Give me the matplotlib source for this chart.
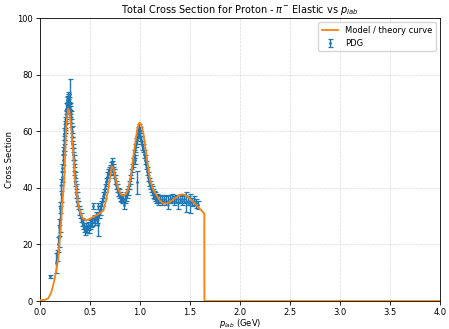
import numpy as np
import matplotlib
matplotlib.use("Agg")
import matplotlib.pyplot as plt

# PDG measurements (p_lab in GeV, cross section, error)
pdg_p = [0.10, 0.16, 0.175, 0.185, 0.19, 0.195, 0.20, 0.205, 0.21, 0.215,
         0.22, 0.225, 0.23, 0.233, 0.236, 0.24, 0.243, 0.246, 0.25, 0.253,
         0.256, 0.26, 0.263, 0.266, 0.27, 0.273, 0.276, 0.28, 0.283, 0.286,
         0.29, 0.293, 0.296, 0.30, 0.305, 0.308, 0.312, 0.316, 0.32, 0.324,
         0.328, 0.332, 0.336, 0.34, 0.345, 0.35, 0.355, 0.36, 0.365, 0.37,
         0.375, 0.38, 0.39, 0.40, 0.41, 0.42, 0.43, 0.44, 0.45, 0.46,
         0.47, 0.48, 0.49, 0.50, 0.51, 0.52, 0.53, 0.54, 0.55, 0.56,
         0.57, 0.58, 0.585, 0.59, 0.60, 0.61, 0.62, 0.63, 0.64, 0.65,
         0.66, 0.67, 0.68, 0.69, 0.70, 0.71, 0.72, 0.725, 0.73, 0.735,
         0.74, 0.75, 0.76, 0.77, 0.78, 0.79, 0.80, 0.81, 0.82, 0.83,
         0.84, 0.85, 0.86, 0.87, 0.88, 0.89, 0.90, 0.91, 0.92, 0.93,
         0.94, 0.95, 0.955, 0.96, 0.97, 0.975, 0.98, 0.985, 0.99, 0.995,
         1.00, 1.005, 1.01, 1.02, 1.03, 1.04, 1.05, 1.06, 1.07, 1.08,
         1.09, 1.10, 1.11, 1.12, 1.13, 1.14, 1.15, 1.16, 1.17, 1.18,
         1.20, 1.22, 1.24, 1.26, 1.28, 1.30, 1.32, 1.34, 1.36, 1.38,
         1.40, 1.42, 1.44, 1.46, 1.48, 1.50, 1.52, 1.54, 1.56, 1.58]
pdg_sigma = [8.7, 13.5, 16, 20, 23, 26, 29, 33, 38, 41,
             44, 47, 50, 53, 55, 57, 59, 61, 63, 62,
             65, 66, 68, 69, 70, 71, 72, 70, 71, 69,
             70, 68, 67, 68, 73, 65, 63, 60, 58, 56,
             54, 52, 50, 48, 46, 44, 42, 40, 38, 37,
             35, 34, 32, 31, 29.5, 28, 27, 26, 25, 26,
             25.5, 26.5, 25.5, 27, 27.5, 28, 33.5, 29, 28.5, 30,
             29, 27, 33.5, 31, 32, 34, 35, 37, 38, 40,
             42, 44, 45, 46, 46.5, 47.5, 48, 49, 47, 46,
             45, 43, 41, 40, 38.5, 38, 37, 36.5, 36, 36,
             34, 36, 37, 38, 39, 41, 43, 45, 47, 49,
             52, 54, 50, 56, 57, 42, 59, 60, 61, 59,
             60, 58, 57, 55, 54, 52, 50, 48, 46, 44,
             42, 41, 40, 39, 38, 37.5, 37, 36, 36.5, 35.5,
             36, 35.5, 36, 35.5, 35, 36, 36.5, 35.5, 36, 35,
             36, 35.5, 36, 35, 35.5, 34.5, 35, 35.5, 34.5, 34]
pdg_err = [0.4, 3.5, 2, 2.5, 4, 3, 4.5, 2, 3, 2,
           2, 1.5, 2, 1.5, 2, 1.5, 2, 1.5, 2, 1.5,
           2, 1.5, 2, 1.5, 2, 1.5, 2, 1.5, 2, 1.5,
           2, 1.5, 2, 2, 5.5, 2, 1.5, 2, 1.5, 2,
           1.5, 2, 1.5, 2, 1.5, 1.5, 1.5, 1.5, 1.5, 1.5,
           1.5, 1.5, 1.5, 1.5, 1.5, 1.5, 1.5, 1.5, 1.5, 1.5,
           1.5, 1.5, 1.5, 1.5, 1.5, 1.5, 1, 1.5, 1.5, 1.5,
           1.5, 4, 1, 1.5, 1.5, 1.5, 1.5, 1.5, 1.5, 1.5,
           1.5, 1.5, 1.5, 1.5, 1.5, 1.5, 1.5, 1.5, 1.5, 1.5,
           1.5, 1.5, 1.5, 1.5, 1.5, 1.5, 1.5, 1.5, 1.5, 1.5,
           1.5, 1.5, 1.5, 1.5, 1.5, 1.5, 1.5, 1.5, 1.5, 1.5,
           1.5, 1.5, 1.5, 1.5, 1.5, 4, 1.5, 1.5, 1.5, 1.5,
           1.5, 1.5, 1.5, 1.5, 1.5, 1.5, 1.5, 1.5, 1.5, 1.5,
           1.5, 1.5, 1.5, 1.5, 1.5, 1.5, 1.5, 1.5, 1.5, 1.5,
           1.5, 1.5, 1.5, 1.5, 2.5, 1.5, 1.5, 1.5, 1.5, 2.5,
           1.5, 1.5, 1.5, 3.5, 1.5, 3.5, 1.5, 1.5, 1.5, 1.5]

# model curve
model_p = [0.0, 0.05, 0.083, 0.11, 0.133, 0.15, 0.167, 0.183, 0.193, 0.21,
           0.223, 0.243, 0.26, 0.272, 0.283, 0.295, 0.307, 0.327, 0.35, 0.383,
           0.41, 0.433, 0.46, 0.483, 0.52, 0.567, 0.60, 0.633, 0.66, 0.683,
           0.70, 0.717, 0.735, 0.75, 0.783, 0.81, 0.833, 0.86, 0.883, 0.91,
           0.933, 0.955, 0.973, 0.99, 1.0, 1.015, 1.033, 1.067, 1.10, 1.13,
           1.167, 1.2, 1.233, 1.27, 1.3, 1.335, 1.367, 1.395, 1.417, 1.45,
           1.483, 1.52, 1.567, 1.60, 1.643, 1.644, 4.0]
model_sigma = [0.3, 0.4, 1.0, 2.8, 5.7, 8.5, 11.6, 15, 19.8, 26.8,
               33.8, 43, 59.5, 65, 68, 67, 63, 55, 43, 34,
               30.5, 29, 28.5, 28.8, 29.5, 30.4, 31, 32, 35.5, 39.6,
               43.5, 47.6, 47, 44.3, 39.6, 37.7, 37.3, 37.8, 39.6, 44,
               51, 56.5, 60.7, 62.8, 63, 62, 59.5, 51, 43, 39.5,
               37.3, 35.5, 34.4, 34.5, 35, 36, 36.7, 37.5, 37.7, 37.5,
               36.7, 35.5, 33.8, 32.5, 30.9, 0, 0]

fig = plt.figure(figsize=(4.49, 3.29), dpi=100)
ax = fig.add_axes([0.089, 0.085, 0.891, 0.86])

ax.errorbar(pdg_p, pdg_sigma, yerr=pdg_err, fmt='.', color='C0', markersize=2,
            elinewidth=1.0, capsize=1.8, capthick=0.9, label='PDG', zorder=2)
ax.plot(model_p, model_sigma, color='C1', lw=1.3, label='Model / theory curve', zorder=3)

ax.set_xlim(0, 4)
ax.set_ylim(0, 100)
ax.set_xticks(np.arange(0, 4.01, 0.5))
ax.set_yticks(np.arange(0, 101, 20))
ax.tick_params(labelsize=6, length=3, width=0.6, pad=2)
for s in ax.spines.values():
    s.set_linewidth(0.6)
ax.grid(True, linestyle='--', color='#cccccc', linewidth=0.5, alpha=0.7)

ax.set_xlabel('$p_{lab}$ (GeV)', fontsize=6, labelpad=0)
ax.set_ylabel('Cross Section', fontsize=6, labelpad=2)
ax.set_title('Total Cross Section for Proton - $\\pi^{-}$ Elastic vs $p_{lab}$', fontsize=7, pad=4)
ax.legend(loc='upper right', fontsize=6)

fig.savefig('out.png', dpi=100)
